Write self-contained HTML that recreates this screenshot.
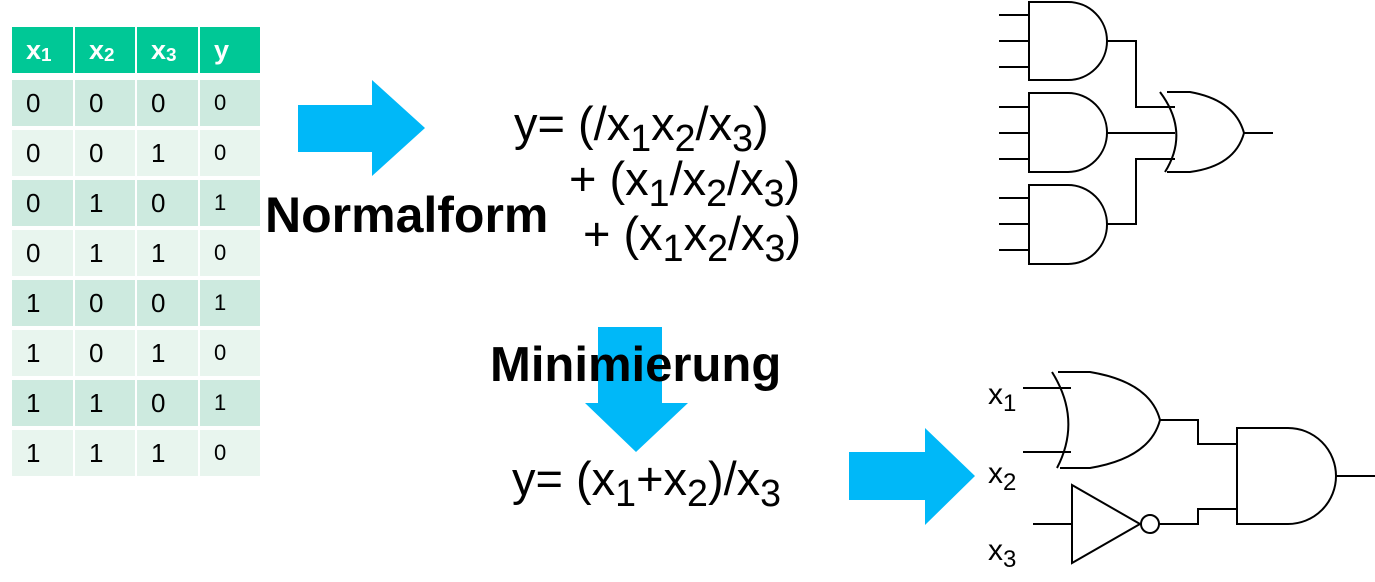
<!DOCTYPE html>
<html><head><style>
body{margin:0;width:1375px;height:582px;background:#fff;position:relative;overflow:hidden;font-family:"Liberation Sans",sans-serif}
.c{position:absolute;display:flex;align-items:center;padding-left:14px;box-sizing:border-box;font-size:26px;color:#000}
.t{position:absolute;white-space:nowrap;color:#000;line-height:1}
sub{font-size:0.8em;vertical-align:baseline;position:relative;top:0.3em}
.h sub{font-size:0.7em;top:0.3em}
</style></head><body>
<div id="tbl"></div>
<script>
var xs=[[12,61],[75,60],[137,61],[200,60]];
var h='';
var hd=['x<sub>1</sub>','x<sub>2</sub>','x<sub>3</sub>','y'];
for(var i=0;i<4;i++)h+='<div class="c h" style="left:'+xs[i][0]+'px;top:27px;width:'+xs[i][1]+'px;height:46px;background:#00c896;color:#fff;font-weight:bold;font-size:27px">'+hd[i]+'</div>';
var rows=['0000','0010','0101','0110','1001','1010','1101','1110'];
for(var r=0;r<8;r++){for(var i=0;i<4;i++){h+='<div class="c" style="left:'+xs[i][0]+'px;top:'+(80+r*50)+'px;width:'+xs[i][1]+'px;height:46px;background:'+(r%2?'#e8f5ee':'#cdeadf')+(i==3?';font-size:22px':'')+'">'+rows[r][i]+'</div>';}}
document.getElementById('tbl').innerHTML=h;
</script>
<svg width="1375" height="582" style="position:absolute;left:0;top:0" fill="none" stroke="#000" stroke-width="2">
<polygon points="298,105 372,105 372,80 425,128 372,176 372,152 298,152" fill="#00b8f8" stroke="none"/>
<polygon points="598,327 662,327 662,403 688,403 636,452 585,403 598,403" fill="#00b8f8" stroke="none"/>
<polygon points="849,452 925,452 925,428 975,476 925,525 925,500 849,500" fill="#00b8f8" stroke="none"/>
<g>
<path d="M1029,2 H1068 A39,39 0 0 1 1068,80 H1029 Z"/>
<path d="M999,15H1029M999,41H1029M999,67H1029"/>
<path d="M1029,93 H1068 A39,39.5 0 0 1 1068,172 H1029 Z"/>
<path d="M999,107H1029M999,133H1029M999,159H1029"/>
<path d="M1029,185 H1068 A39,39.5 0 0 1 1068,264 H1029 Z"/>
<path d="M999,198H1029M999,224H1029M999,250H1029"/>
<path d="M1107,41H1136V107H1175M1107,133H1175M1107,224H1136V159H1175"/>
<path d="M1160,92 Q1190,132 1165,172"/>
<path d="M1167,92 H1190 Q1235,100 1244,133 Q1235,166 1190,172 H1167"/>
<path d="M1244,133H1273"/>
</g>
<path d="M1052,372 Q1082,420 1057,468"/>
<path d="M1058,372 H1090 Q1150,382 1160,420 Q1150,458 1090,468 H1060"/>
<path d="M1023,388H1071M1023,452H1071"/>
<path d="M1160,420H1198V444H1237"/>
<path d="M1237,428 H1288 A48,48 0 0 1 1288,524 H1237 Z"/>
<path d="M1336,476H1375"/>
<path d="M1072,485 L1140,524 L1072,563 Z"/>
<circle cx="1150" cy="524" r="9"/>
<path d="M1033,524H1072M1159,524H1198V509H1237"/>
</svg>
<div class="t" style="left:265px;top:190px;font-size:50px;font-weight:bold">Normalform</div>
<div class="t" style="left:490px;top:341px;font-size:49px;font-weight:bold">Minimierung</div>
<div class="t" style="left:514px;top:100px;font-size:47px">y= (/x<sub>1</sub>x<sub>2</sub>/x<sub>3</sub>)</div>
<div class="t" style="left:569px;top:155px;font-size:47px">+ (x<sub>1</sub>/x<sub>2</sub>/x<sub>3</sub>)</div>
<div class="t" style="left:583px;top:210px;font-size:47px">+ (x<sub>1</sub>x<sub>2</sub>/x<sub>3</sub>)</div>
<div class="t" style="left:512px;top:455px;font-size:47px">y= (x<sub>1</sub>+x<sub>2</sub>)/x<sub>3</sub></div>
<div class="t" style="left:988px;top:380px;font-size:30px">x<sub>1</sub></div>
<div class="t" style="left:988px;top:459px;font-size:30px">x<sub>2</sub></div>
<div class="t" style="left:988px;top:536px;font-size:30px">x<sub>3</sub></div>
</body></html>
